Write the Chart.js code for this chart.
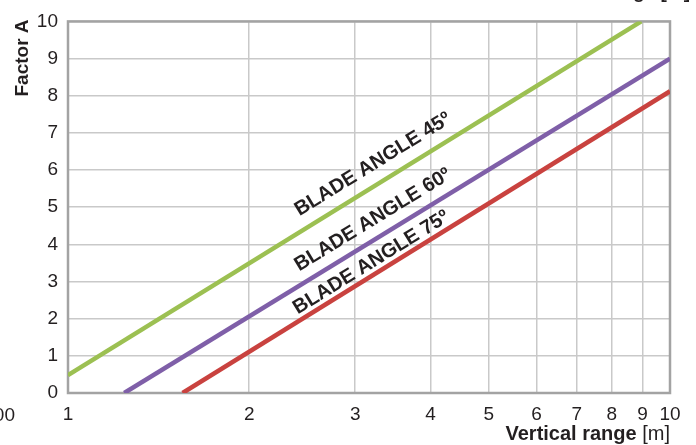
<!DOCTYPE html>
<html>
<head>
<meta charset="utf-8">
<script src="https://cdn.jsdelivr.net/npm/chart.js@4"></script>
<style>
  html, body { margin: 0; padding: 0; background: #fff; }
  #wrap { width: 696px; height: 445px; position: relative; }
</style>
</head>
<body>
<div id="wrap"><canvas id="chart"></canvas></div>
<script>
// axis ticks
const xTicks = [1, 2, 3, 4, 5, 6, 7, 8, 9, 10];
const yTicks = [0, 1, 2, 3, 4, 5, 6, 7, 8, 9, 10];

// series (vertical range [m] -> factor A), straight lines on log-x
const seriesNames = ['BLADE ANGLE 45º', 'BLADE ANGLE 60º', 'BLADE ANGLE 75º'];
const range45 = [1, 8.96];
const factor45 = [0.48, 10];
const range60 = [1.24, 10];
const factor60 = [0, 9.0];
const range75 = [1.55, 10];
const factor75 = [0, 8.12];

const textColor = '#231f20';
const gridColor = '#c9c9c9';
const frameColor = '#a3a3a3';

function toPoints(xs, ys) {
    return xs.map((x, i) => ({ x: x, y: ys[i] }));
}

// rotated series labels + axis titles, drawn on the canvas
const labelsPlugin = {
    id: 'bladeLabels',
    beforeDatasetsDraw(chart) {
        const { ctx, chartArea: a } = chart;
        ctx.save();
        ctx.strokeStyle = frameColor;
        ctx.lineWidth = 2.5;
        ctx.strokeRect(a.left, a.top, a.right - a.left, a.bottom - a.top);
        ctx.restore();
    },
    afterDraw(chart, args, opts) {
        const { ctx, chartArea: a } = chart;
        const xs = chart.scales.x, ys = chart.scales.y;
        ctx.save();
        ctx.fillStyle = textColor;

        // labels along each line
        opts.anchors.forEach((p, i) => {
            const ds = chart.data.datasets[i].data;
            const p0 = ds[0], p1 = ds[ds.length - 1];
            const ang = Math.atan2(ys.getPixelForValue(p1.y) - ys.getPixelForValue(p0.y),
                                   xs.getPixelForValue(p1.x) - xs.getPixelForValue(p0.x));
            ctx.save();
            ctx.translate(xs.getPixelForValue(p.x), ys.getPixelForValue(p.y));
            ctx.rotate(ang);
            ctx.font = 'bold 20px "Liberation Sans", Arial, sans-serif';
            ctx.textAlign = 'center';
            ctx.textBaseline = 'middle';
            ctx.fillText(seriesNames[i], 0, 0);
            ctx.restore();
        });

        // y title
        ctx.save();
        ctx.translate(28, 58);
        ctx.rotate(-Math.PI / 2);
        ctx.font = 'bold 19px "Liberation Sans", Arial, sans-serif';
        ctx.textAlign = 'center';
        ctx.textBaseline = 'alphabetic';
        ctx.fillText('Factor A', 0, 0);
        ctx.restore();

        // x title: bold part + regular unit
        ctx.textBaseline = 'alphabetic';
        ctx.textAlign = 'right';
        ctx.font = '20px "Liberation Sans", Arial, sans-serif';
        const unit = '[m]';
        const uw = ctx.measureText(' ' + unit).width;
        ctx.fillText(' ' + unit, a.right, 440);
        ctx.font = 'bold 20px "Liberation Sans", Arial, sans-serif';
        ctx.fillText('Vertical range', a.right - uw, 440);

        // bits of the neighbouring charts cut off by the crop
        ctx.font = '19px "Liberation Sans", Arial, sans-serif';
        ctx.textAlign = 'right';
        ctx.fillText('100', 15, 421);
        ctx.font = 'bold 19px "Liberation Sans", Arial, sans-serif';
        ctx.fillText('Vertical range [m]', 690, -2);
        ctx.restore();
    }
};

new Chart(document.getElementById('chart'), {
    type: 'line',
    data: {
        datasets: [
            { label: seriesNames[0], data: toPoints(range45, factor45), borderColor: '#9cc052' },
            { label: seriesNames[1], data: toPoints(range60, factor60), borderColor: '#7f5fa8' },
            { label: seriesNames[2], data: toPoints(range75, factor75), borderColor: '#c9423f' }
        ].map(d => Object.assign(d, { borderWidth: 4.5, pointRadius: 0, tension: 0, fill: false }))
    },
    options: {
        responsive: true,
        maintainAspectRatio: false,
        animation: false,
        layout: { padding: { left: 0, top: 18, right: 26, bottom: 0 } },
        plugins: {
            legend: { display: false },
            tooltip: { enabled: false },
            bladeLabels: {
                anchors: [
                    { x: 3.21, y: 6.15 },
                    { x: 3.21, y: 4.66 },
                    { x: 3.19, y: 3.51 }
                ]
            }
        },
        scales: {
            x: {
                type: 'logarithmic',
                min: 1,
                max: 10,
                afterBuildTicks: s => { s.ticks = xTicks.map(v => ({ value: v })); },
                afterFit: s => { s.height = 52; },
                border: { display: false },
                grid: { color: gridColor, lineWidth: 1.5, drawTicks: false },
                ticks: {
                    autoSkip: false,
                    maxRotation: 0,
                    padding: 10,
                    color: textColor,
                    font: { family: '"Liberation Sans", Arial, sans-serif', size: 19 },
                    callback: v => String(v)
                }
            },
            y: {
                min: 0,
                max: 10,
                afterBuildTicks: s => { s.ticks = yTicks.map(v => ({ value: v })); },
                afterFit: s => { s.width = 68; },
                border: { display: false },
                grid: { color: gridColor, lineWidth: 1.5, drawTicks: false },
                ticks: {
                    padding: 10,
                    color: textColor,
                    font: { family: '"Liberation Sans", Arial, sans-serif', size: 19 }
                }
            }
        }
    },
    plugins: [labelsPlugin]
});
</script>
</body>
</html>
